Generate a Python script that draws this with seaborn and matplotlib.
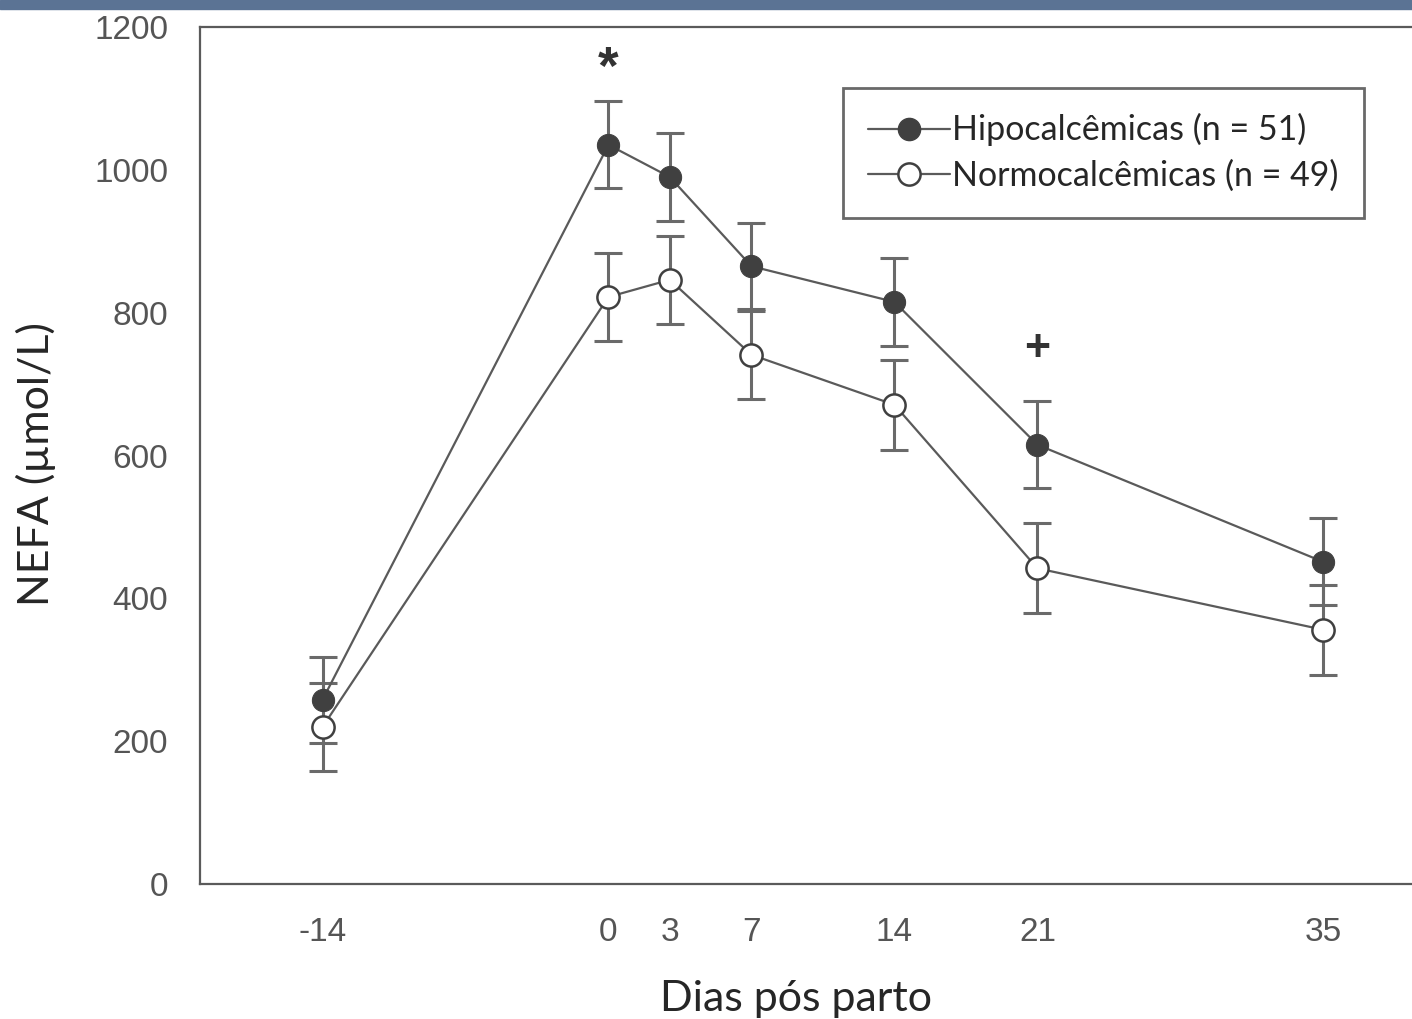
import numpy as np
import pandas as pd
import matplotlib
matplotlib.use("Agg")
import matplotlib.pyplot as plt
import seaborn as sns
from matplotlib.patches import Rectangle
from matplotlib.lines import Line2D
from matplotlib.ticker import FixedFormatter

# Values (NEFA, umol/L, mean +/- SE)
dias = [-14, 0, 3, 7, 14, 21, 35]
dias_rotulos = ["-14", "0", "3", "7", "14", "21", "35"]
hipo_media = [258, 1035, 990, 865, 815, 615, 451]
hipo_ep = [60, 61, 61, 60, 61, 61, 61]
normo_media = [220, 822, 846, 741, 671, 442, 356]
normo_ep = [62, 62, 62, 62, 63, 63, 63]
rotulos = ["Hipocalcêmicas (n = 51)", "Normocalcêmicas (n = 49)"]

df = pd.DataFrame({
    "dia": dias * 2,
    "nefa": hipo_media + normo_media,
    "grupo": [rotulos[0]] * len(dias) + [rotulos[1]] * len(dias),
})

sns.set_style("white")
plt.rcParams["font.family"] = ["Liberation Sans", "DejaVu Sans"]

fig = plt.figure(figsize=(14.12, 10.19), dpi=100)
ax = fig.add_axes([200 / 1412, 1 - 884 / 1019, 1 - 200 / 1412, (884 - 27) / 1019])

gray = "#5a5a5a"
ebar = "#6a6a6a"

# error bars behind the markers
ax.errorbar(dias, hipo_media, yerr=hipo_ep, fmt="none", ecolor=ebar,
            elinewidth=2.2, capsize=10, capthick=2.2, zorder=2)
ax.errorbar(dias, normo_media, yerr=normo_ep, fmt="none", ecolor=ebar,
            elinewidth=2.2, capsize=10, capthick=2.2, zorder=2)

sns.lineplot(data=df, x="dia", y="nefa", hue="grupo", style="grupo",
             palette=[gray, gray], markers=["o", "o"], dashes=False,
             markersize=16, linewidth=1.6, legend=False, ax=ax, zorder=3)

# marker faces: filled dark / open white
lines = ax.get_lines()
lines[-2].set_markerfacecolor("#404040")
lines[-2].set_markeredgecolor("#404040")
lines[-1].set_markerfacecolor("white")
lines[-1].set_markeredgecolor("#404040")
lines[-1].set_markeredgewidth(1.8)

ax.set_xlim(-20, 39.34)
ax.set_ylim(0, 1200)
ax.set_xticks(dias)
ax.xaxis.set_major_formatter(FixedFormatter(dias_rotulos))
ax.set_yticks(range(0, 1201, 200))
ax.tick_params(axis="both", labelsize=24, labelcolor="#555555", colors=gray,
               length=9, width=1.5, direction="out")
ax.tick_params(axis="x", pad=15)
ax.tick_params(axis="y", pad=14)
for side in ["left", "bottom", "top"]:
    ax.spines[side].set_color(gray)
    ax.spines[side].set_linewidth(1.6)
ax.spines["right"].set_visible(False)

ax.set_xlabel("Dias pós parto", fontsize=31, family=["Lato", "DejaVu Sans"])
ax.xaxis.set_label_coords((796 - 200) / 1212, -0.112)
ax.set_ylabel("NEFA (µmol/L)", fontsize=31, family=["Lato", "DejaVu Sans"])
ax.yaxis.set_label_coords(-0.119, 0.49)

# significance marks
ax.text(0, 1140, "*", fontsize=38, ha="center", va="center", color="#333333", fontweight="bold")
ax.text(21, 748, "+", fontsize=32, ha="center", va="center", color="#333333", fontweight="bold")

handles = [
    Line2D([], [], color=gray, lw=1.6, marker="o", markersize=16,
           markerfacecolor="#404040", markeredgecolor="#404040"),
    Line2D([], [], color=gray, lw=1.6, marker="o", markersize=16,
           markerfacecolor="white", markeredgecolor="#404040", markeredgewidth=1.8),
]
leg = ax.legend(handles, rotulos, loc="upper left", bbox_to_anchor=(0.5305, 0.929),
                frameon=True, fancybox=False, edgecolor="#444444",
                prop={"family": ["Lato", "DejaVu Sans"], "size": 24.5},
                handlelength=2.4, handletextpad=0.05, borderpad=0.75, labelspacing=0.4,
                borderaxespad=0)
leg.get_frame().set_linewidth(2)

# blue bar at the top of the slide
fig.patches.append(Rectangle((0, 1 - 9 / 1019), 1, 9 / 1019, transform=fig.transFigure,
                             color="#5b7394", zorder=10))

fig.savefig("out.png", dpi=100)
